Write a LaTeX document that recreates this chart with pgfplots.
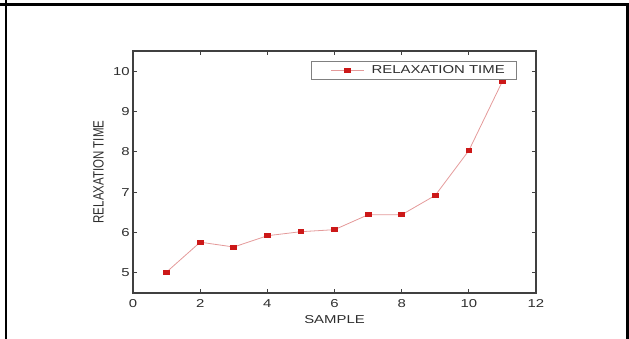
\documentclass[border=0pt]{standalone}
\usepackage{fontspec}
\setmainfont{Liberation Sans}
\newfontfamily\wide{Liberation Sans}[FakeStretch=1.3]
\newfontfamily\narrow{Liberation Sans}[FakeStretch=0.77]
\usepackage{pgfplots}
\pgfplotsset{compat=1.18}
\definecolor{mk}{HTML}{CC1818}
\definecolor{ln}{HTML}{E49A9A}
\definecolor{tx}{HTML}{2E2E2E}
\begin{document}
\begin{tikzpicture}
\path[use as bounding box] (0pt,0pt) rectangle (471.75pt,254.25pt);
\draw[line width=1.6pt] (0pt,250.9pt) -- (471.75pt,250.9pt);
\draw[line width=1.6pt] (4.5pt,0pt) -- (4.5pt,254.25pt);
\draw[line width=1.6pt] (470.6pt,0pt) -- (470.6pt,250.9pt);
\begin{axis}[
  anchor=south west, at={(99.75pt,34.5pt)},
  scale only axis, width=302.25pt, height=181.5pt,
  xmin=0, xmax=12, ymin=4.5, ymax=10.5,
  xtick={0,2,...,12}, ytick={5,6,...,10},
  tick align=inside, major tick length=3pt,
  minor tick num=0,
  axis line style={line width=1pt, draw=black!75},
  tick style={line width=0.8pt, draw=black!75},
  /pgf/number format/assume math mode=true,
  ticklabel style={font=\wide\fontsize{8.6}{10}\selectfont, text=tx},
  xticklabel style={yshift=-1.5pt},
  yticklabel style={xshift=1pt},
  xlabel={SAMPLE}, ylabel={RELAXATION TIME},
  xlabel style={font=\wide\fontsize{8.6}{10}\selectfont, text=tx, yshift=1pt},
  ylabel style={font=\narrow\fontsize{11.2}{12}\selectfont, text=tx, yshift=0pt},
  legend style={at={(0.953,0.959)}, anchor=north east, draw=black!50, line width=0.5pt,
    font=\wide\fontsize{8.6}{10}\selectfont, text=tx, inner xsep=0pt, inner ysep=2.9pt,
    nodes={inner sep=0pt}, row sep=0pt},
  legend image code/.code={\path (-15pt,0pt) (30pt,0pt);\draw[mark repeat=2,mark phase=2] plot coordinates {(0pt,0pt)(12.4pt,0pt)(24.75pt,0pt)};},
]
\addplot[color=ln, line width=0.6pt, mark=square*, mark size=1.55pt,
  mark options={draw=mk, fill=mk, xscale=1.4}]
coordinates {(1,5.02)(2,5.76)(3,5.64)(4,5.92)(5,6.02)(6,6.07)(7,6.44)(8,6.44)(9,6.92)(10,8.03)(11,9.75)};
\addlegendentry{RELAXATION TIME\kern9pt\null}
\end{axis}
\end{tikzpicture}
\end{document}
